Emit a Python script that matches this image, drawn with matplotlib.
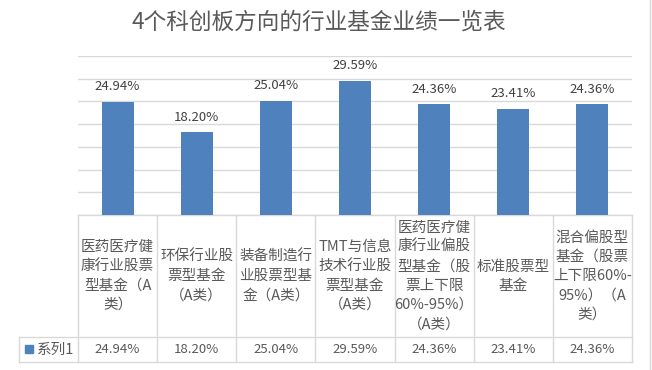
import numpy as np
import matplotlib.pyplot as plt
from matplotlib.lines import Line2D

plt.rcParams['font.family'] = ['Noto Sans CJK SC', 'DejaVu Sans']

# data
title = "4个科创板方向的行业基金业绩一览表"
series_name = "系列1"
categories = [
    "医药医疗健\n康行业股票\n型基金（A\n类）",
    "环保行业股\n票型基金\n（A类）",
    "装备制造行\n业股票型基\n金（A类）",
    "TMT与信息\n技术行业股\n票型基金\n（A类）",
    "医药医疗健\n康行业偏股\n型基金（股\n票上下限\n60%-95%）\n（A类）",
    "标准股票型\n基金",
    "混合偏股型\n基金（股票\n上下限60%-\n95%）（A\n类）",
]
values = [24.94, 18.20, 25.04, 29.59, 24.36, 23.41, 24.36]

BLUE = '#4F81BD'
GRID = '#D9D9D9'
TXT = '#595959'

W, H = 652, 370
fig = plt.figure(figsize=(W / 100, H / 100), dpi=100)

# plot area (pixel positions of the reference)
left, right, top, base = 78, 632, 56, 215
ax = fig.add_axes([left / W, 1 - base / H, (right - left) / W, (base - top) / H])

n = len(values)
x = np.arange(n)
ax.bar(x, values, width=0.405, color=BLUE, zorder=3)
ax.set_xlim(-0.5, n - 0.5)
ax.set_ylim(0, 35)
ax.set_yticks(np.arange(0, 36, 5))
ax.yaxis.grid(True, color=GRID, lw=1)
ax.set_axisbelow(True)
for s in ax.spines.values():
    s.set_visible(False)
ax.tick_params(left=False, bottom=False, labelleft=False, labelbottom=False)

for xi, v in zip(x, values):
    ax.annotate(f"{v:.2f}%", (xi, v), xytext=(0, 11), textcoords='offset points',
                ha='center', va='center', fontsize=9.5, color='#404040')

# data table under the plot
trans = ax.get_xaxis_transform()
col_w = (right - left) / n          # pixels per category
plot_h = base - top
y1 = -(337 - base) / plot_h
y2 = -(362 - base) / plot_h
x_left = -0.5 - (left - 19) / col_w

lkw = dict(color=GRID, lw=1, transform=trans, clip_on=False)
ax.add_line(Line2D([-0.5, n - 0.5], [0, 0], **lkw))
ax.add_line(Line2D([x_left, n - 0.5], [y1, y1], **lkw))
ax.add_line(Line2D([x_left, n - 0.5], [y2, y2], **lkw))
ax.add_line(Line2D([x_left, x_left], [y1, y2], **lkw))
for k in range(n + 1):
    ax.add_line(Line2D([k - 0.5, k - 0.5], [0, y2], **lkw))

for xi, cat, v in zip(x, categories, values):
    ax.text(xi, y1 / 2, cat, transform=trans, ha='center', va='center',
            multialignment='center', fontsize=10.5, color=TXT, linespacing=1.48)
    ax.text(xi, (y1 + y2) / 2, f"{v:.2f}%", transform=trans, ha='center', va='center',
            fontsize=9.5, color=TXT)

# legend key in the row header
ax.plot([-0.5 - (left - 29) / col_w], [(y1 + y2) / 2], marker='s', markersize=5.5,
        color=BLUE, transform=trans, clip_on=False)
ax.text(-0.5 - (left - 37) / col_w, (y1 + y2) / 2, series_name, transform=trans,
        ha='left', va='center', fontsize=10.5, color=TXT)

fig.text(319 / W, 1 - 22 / H, title, ha='center', va='center', fontsize=16.3, color=TXT)
fig.add_artist(Line2D([650 / W, 650 / W], [0, 1], color=GRID, lw=1))

plt.savefig('out.png', dpi=100)
plt.close()
